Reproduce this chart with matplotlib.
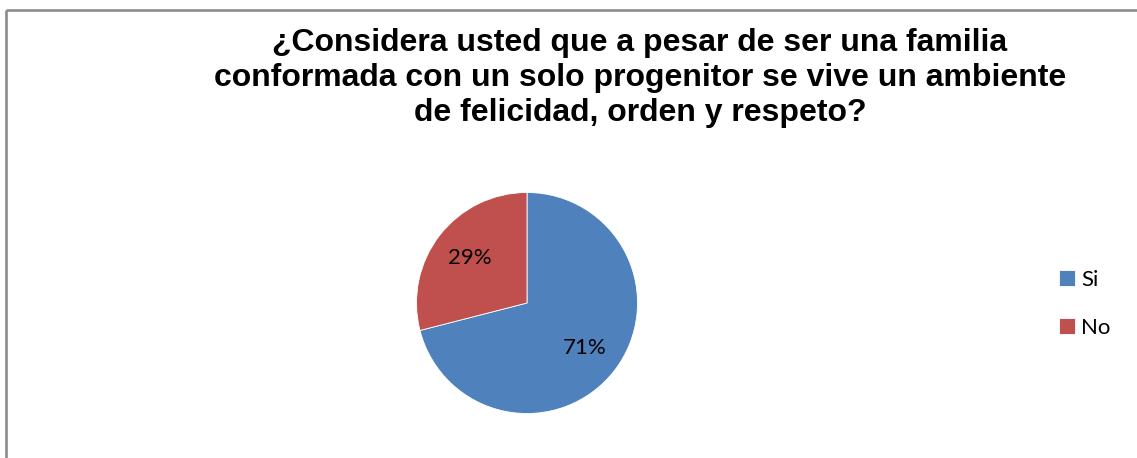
import matplotlib
matplotlib.use("Agg")
import matplotlib.pyplot as plt
from matplotlib.lines import Line2D

title_lines = [
    "¿Considera usted que a pesar de ser una familia",
    "conformada con un solo progenitor se vive un ambiente",
    "de felicidad, orden y respeto?",
]
categories = ["Si", "No"]
values = [71, 29]
colors = ["#4F81BD", "#C0504D"]

W, H = 1137, 458
fig = plt.figure(figsize=(W / 100, H / 100), dpi=100)
fig.patch.set_facecolor("white")

# frame (top and left edges visible in the crop)
frame_col = "#8C8C8C"
fig.add_artist(Line2D([6 / W, 6 / W], [0, 1 - 10 / H], color=frame_col, lw=1.9,
                      transform=fig.transFigure, solid_capstyle="butt"))
fig.add_artist(Line2D([6 / W, 1], [1 - 10 / H, 1 - 10 / H], color=frame_col, lw=1.9,
                      transform=fig.transFigure, solid_capstyle="butt"))

# title
for i, line in enumerate(title_lines):
    fig.text(640 / W, 1 - (43 + 35 * i) / H, line, ha="center", va="center",
             fontsize=23, fontweight="bold", family="Liberation Sans", color="black")

# pie
cx, cy, r = 527, 303, 110.5
ax = fig.add_axes([(cx - r) / W, (H - cy - r) / H, 2 * r / W, 2 * r / H])
wedges, texts, autotexts = ax.pie(
    values, colors=colors, startangle=90, counterclock=False, radius=1.0,
    autopct=lambda p: f"{p:.0f}%", pctdistance=0.66,
    wedgeprops=dict(edgecolor="white", linewidth=0.6),
    textprops=dict(fontsize=16, family="Lato", color="black"),
)
ax.set_xlim(-1, 1)
ax.set_ylim(-1, 1)
ax.set_aspect("equal")
ax.axis("off")

leg = fig.legend(wedges, categories, loc="center left",
                 bbox_to_anchor=(1059 / W, 1 - 304 / H), frameon=False,
                 prop=dict(family="Lato", size=16),
                 handlelength=0.7, handleheight=0.7, handletextpad=0.3,
                 labelspacing=1.26, borderpad=0, borderaxespad=0)

fig.savefig("out.png", dpi=100, facecolor="white")
